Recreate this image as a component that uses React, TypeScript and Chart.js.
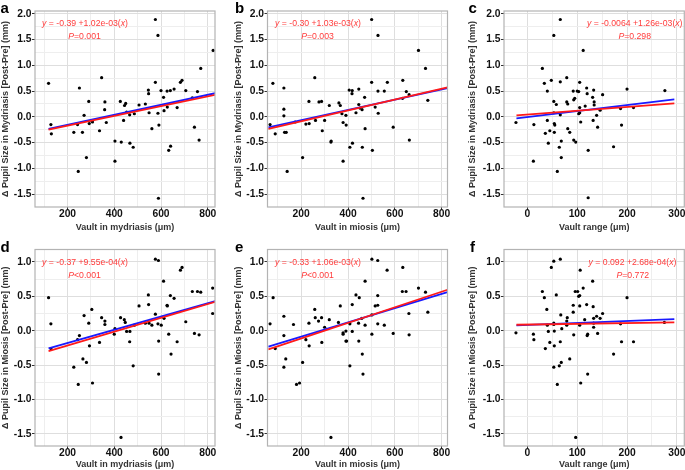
import React, { useEffect, useRef } from 'react';
import { Chart, registerables } from 'chart.js';

Chart.register(...registerables);

const FONT = "'Liberation Sans', Arial, Helvetica, sans-serif";

// ---------- data ----------
// a: vault in mydriasis vs Δ pupil (mydriasis)
const aX = [119,129,131,227,243,246,251,264,271,281,291,293,304,307,337,346,360,359,366,403,403,426,430,440,444,449,453,466,467,481,486,506,533,546,547,549,561,576,576,587,587,591,589,600,611,613,626,627,633,640,641,656,669,683,690,706,734,743,756,763,770,823];
const aY = [0.65,-0.15,-0.33,-0.30,-0.15,-1.06,0.56,-0.30,0.03,-0.79,0.30,-0.13,-0.08,-0.10,-0.27,0.76,0.29,0.14,-0.11,-0.47,-0.86,0.30,-0.49,-0.07,0.22,0.26,0.09,0.04,-0.51,-0.59,0.06,0.23,0.25,0.52,0.45,0.08,-0.23,1.89,0.67,1.58,0.07,-0.16,-1.58,0.51,0.38,0.12,0.50,0.19,-0.65,0.51,-0.57,0.54,0.18,0.67,0.71,0.51,0.37,-0.20,0.49,-0.45,0.94,1.29];
// b: vault in miosis vs Δ pupil (mydriasis)
const bX = [67,79,89,126,126,126,129,136,140,174,206,220,233,234,258,261,276,287,290,300,320,327,328,361,367,374,379,379,391,392,405,408,418,417,419,434,446,446,451,460,461,464,471,473,501,501,504,516,528,528,529,555,568,593,633,634,649,661,662,701,731,741];
const bY = [-0.15,0.65,-0.33,0.56,0.02,0.15,-0.30,-0.30,-1.06,-0.10,-0.79,-0.14,0.30,-0.13,0.76,-0.07,0.29,0.30,-0.27,-0.07,0.22,-0.49,-0.47,0.27,0.22,0.06,-0.11,-0.86,0.03,-0.16,0.52,-0.59,0.51,0.45,-0.51,0.08,0.54,0.24,0.17,0.14,-0.59,-1.58,0.38,-0.23,1.89,0.67,-0.65,0.19,1.58,0.50,0.07,0.50,0.67,-0.20,0.36,0.71,0.49,0.43,-0.45,1.29,0.94,0.32];
// c: vault range vs Δ pupil (mydriasis)
const cX = [-23,13,12,30,34,36,40,40,42,45,48,53,53,53,54,55,54,58,64,66,66,66,68,68,60,79,79,81,81,85,92,93,95,93,97,100,103,103,105,105,105,107,112,116,119,120,122,122,131,132,133,134,134,139,141,146,151,173,187,189,200,213,276];
const cY = [-0.11,-0.15,-0.86,0.94,0.65,-0.32,0.50,-0.07,-0.51,-0.27,0.71,1.58,0.30,0.08,-0.13,-0.16,-0.30,0.24,-0.59,1.89,0.68,0.04,-0.79,-0.47,-1.06,0.76,0.29,0.25,-0.23,-0.30,0.50,0.33,0.36,-0.45,-0.49,0.50,0.49,0.06,0.18,0.08,0.67,-0.10,1.29,0.21,0.56,0.45,-1.57,-0.65,0.38,-0.07,0.52,0.29,0.23,0.03,-0.20,0.13,0.43,-0.58,0.16,-0.16,0.54,0.18,0.51];
// d: vault in mydriasis vs Δ pupil (miosis)
const dX = [119,129,129,227,243,246,251,266,271,281,291,294,304,307,337,346,360,360,403,400,427,429,443,447,453,467,466,481,486,506,533,546,547,549,561,576,576,589,587,590,590,601,611,613,626,627,633,640,643,656,669,683,690,706,734,743,756,763,770,821,821];
const dY = [0.48,0.10,-0.26,-0.53,-0.13,-0.78,-0.07,-0.41,0.22,-0.46,0.11,-0.22,0.31,-0.76,-0.17,0.19,0.14,0.09,0.03,-0.05,0.19,-1.55,0.16,0.12,-0.01,-0.01,-0.16,-0.51,0.08,0.36,0.11,0.52,0.38,0.11,0.08,1.04,0.24,1.02,0.10,-0.15,-0.63,0.08,0.72,0.18,0.37,0.36,-0.05,0.51,-0.34,0.47,-0.16,0.88,0.92,0.13,0.57,-0.04,0.57,-0.06,0.56,0.62,0.25];
// e: vault in miosis vs Δ pupil (miosis)
const eX = [67,80,89,126,126,126,134,167,180,193,206,220,233,234,258,260,274,287,288,300,320,327,359,367,379,379,391,391,394,408,408,418,418,434,448,445,446,459,461,464,473,473,502,502,502,516,527,527,527,527,555,567,593,632,634,648,660,661,701,731,741];
const eY = [0.10,0.48,-0.26,0.21,-0.07,-0.53,-0.41,0.09,-0.78,-0.76,-0.46,-0.13,0.11,-0.22,0.31,0.19,0.14,0.19,-0.17,0.05,0.16,-1.55,0.12,0.36,-0.03,-0.05,-0.005,-0.15,-0.15,-0.51,0.10,0.38,-0.01,0.52,0.48,0.11,-0.15,0.18,-0.34,-0.63,0.72,0.08,1.04,0.23,-0.05,0.36,1.02,0.51,0.37,0.10,0.08,0.88,-0.04,0.57,0.92,0.57,0.25,-0.06,0.62,0.56,0.27];
// f: vault range vs Δ pupil (miosis)
const fX = [-23,12,13,30,34,36,39,40,42,45,48,53,53,53,54,54,53,58,64,66,66,67,68,69,60,79,80,79,85,92,92,93,96,97,101,103,105,105,105,106,107,112,115,119,120,121,121,131,132,133,133,133,139,141,146,151,173,187,189,200,213,275];
const fY = [-0.03,-0.05,-0.13,0.57,0.48,-0.26,0.31,0.08,-0.01,-0.17,0.92,1.01,0.11,0.09,-0.005,-0.22,-0.53,0.52,-0.51,1.04,-0.16,0.23,-0.46,0.03,-0.78,0.14,0.19,0.08,-0.41,0.37,0.27,-0.06,0.57,-1.55,0.57,0.50,0.36,0.51,0.08,0.88,-0.76,0.62,0.16,0.38,-0.07,-0.05,-0.63,0.72,0.35,0.18,0.11,0.05,0.21,-0.04,0.18,0.25,-0.34,0.10,-0.16,0.48,-0.16,0.12];

// fitted lines (end points): red and blue
const redAX = [119, 833]; const redAY = [-0.25, 0.43];
const blueAX = [119, 833]; const blueAY = [-0.235, 0.46];
const redBX = [60, 825]; const redBY = [-0.235, 0.57];
const blueBX = [60, 825]; const blueBY = [-0.205, 0.56];
const redCX = [-22, 295]; const redCY = [0.03, 0.26];
const blueCX = [-22, 295]; const blueCY = [-0.03, 0.34];
const redDX = [119, 833]; const redDY = [-0.295, 0.421];
const blueDX = [119, 833]; const blueDY = [-0.256, 0.43];
const redEX = [60, 825]; const redEY = [-0.271, 0.595];
const blueEX = [60, 825]; const blueEY = [-0.232, 0.561];
const redFX = [-22, 295]; const redFY = [0.087, 0.121];
const blueFX = [-22, 295]; const blueFY = [0.077, 0.169];

// tick values
const xTicksVault = [100, 200, 300, 400, 500, 600, 700, 800];
const xTicksRange = [0, 50, 100, 150, 200, 250, 300];
const yTicksMyd = [-1.5, -1.25, -1, -0.75, -0.5, -0.25, 0, 0.25, 0.5, 0.75, 1, 1.25, 1.5, 1.75, 2];
const yTicksMio = [-1.5, -1.25, -1, -0.75, -0.5, -0.25, 0, 0.25, 0.5, 0.75, 1];

// texts
const yTitleMyd = 'Δ Pupil Size in Mydriasis [Post-Pre] (mm)';
const yTitleMio = 'Δ Pupil Size in Miosis [Post-Pre] (mm)';
const xTitleMyd = 'Vault in mydriasis (μm)';
const xTitleMio = 'Vault in miosis (μm)';
const xTitleRange = 'Vault range (μm)';
const eqA = ['y', ' = -0.39 +1.02e-03(', 'x', ')'];
const eqB = ['y', ' = -0.30 +1.03e-03(', 'x', ')'];
const eqC = ['y', ' = -0.0064 +1.26e-03(', 'x', ')'];
const eqD = ['y', ' = -0.37 +9.55e-04(', 'x', ')'];
const eqE = ['y', ' = -0.33 +1.06e-03(', 'x', ')'];
const eqF = ['y', ' = 0.092 +2.68e-04(', 'x', ')'];
const pA = ['P', '=0.001'];
const pB = ['P', '=0.003'];
const pC = ['P', '=0.298'];
const pD = ['P', '<0.001'];
const pE = ['P', '<0.001'];
const pF = ['P', '=0.772'];

// ---------- panel definitions (layout + references to data) ----------
const TOP = { top: 0, h: 235, padTop: 11, xAxisH: 28, xTitlePad: 2.1, yMin: -1.75, yMax: 2.055, yTicks: yTicksMyd, yTitle: yTitleMyd, eqY: 24, pY: 36.7, letterY: 12.5 };
const BOT = { top: 235, h: 235, padTop: 14.5, xAxisH: 24, xTitlePad: 0.4, yMin: -1.675, yMax: 1.18, yTicks: yTicksMio, yTitle: yTitleMio, eqY: 28, pY: 40.7, letterY: 17 };
const COL1 = { left: 0, w: 232, yAxisW: 35, padRight: 17, yTitlePad: 0, xMin: 61, xMax: 831, xTicks: xTicksVault, xMajor: 200, eqX: 85, pX: 84.5, letterX: 0.5 };
const COL2 = { left: 232, w: 234, yAxisW: 35.5, padRight: 18.5, yTitlePad: 1.2, xMin: 56, xMax: 825, xTicks: xTicksVault, xMajor: 200, eqX: 86, pX: 85.5, letterX: 3 };
const COL3 = { left: 466, w: 230, yAxisW: 38, padRight: 11.7, yTitlePad: 0.7, xMin: -47, xMax: 315, xTicks: xTicksRange, xMajor: 100, eqX: 168.7, pX: 168.7, letterX: 2.5 };

const panels = [
  { ...TOP, ...COL1, letter: 'a', xs: aX, ys: aY, xTitle: xTitleMyd, redX: redAX, redY: redAY, blueX: blueAX, blueY: blueAY, eq: eqA, pt: pA },
  { ...TOP, ...COL2, letter: 'b', xs: bX, ys: bY, xTitle: xTitleMio, redX: redBX, redY: redBY, blueX: blueBX, blueY: blueBY, eq: eqB, pt: pB },
  { ...TOP, ...COL3, letter: 'c', xs: cX, ys: cY, xTitle: xTitleRange, redX: redCX, redY: redCY, blueX: blueCX, blueY: blueCY, eq: eqC, pt: pC },
  { ...BOT, ...COL1, letter: 'd', xs: dX, ys: dY, xTitle: xTitleMyd, redX: redDX, redY: redDY, blueX: blueDX, blueY: blueDY, eq: eqD, pt: pD },
  { ...BOT, ...COL2, letter: 'e', xs: eX, ys: eY, xTitle: xTitleMio, redX: redEX, redY: redEY, blueX: blueEX, blueY: blueEY, eq: eqE, pt: pE },
  { ...BOT, ...COL3, letter: 'f', xs: fX, ys: fY, xTitle: xTitleRange, redX: redFX, redY: redFY, blueX: blueFX, blueY: blueFY, eq: eqF, pt: pF, eqX: 166.5, pX: 166.8, letterX: 4 },
];

const isMajor = (v: number, step: number) => Math.abs(v / step - Math.round(v / step)) < 1e-6;

function drawSegs(ctx: CanvasRenderingContext2D, segs: string[], cx: number, cy: number, size: number, color: string) {
  const fonts = segs.map((_, i) => `${i % 2 === 0 ? 'italic ' : ''}${size}px ${FONT}`);
  const widths = segs.map((s, i) => { ctx.font = fonts[i]; return ctx.measureText(s).width; });
  const total = widths.reduce((a, b) => a + b, 0);
  let x = cx - total / 2;
  ctx.textBaseline = 'middle';
  ctx.textAlign = 'left';
  ctx.fillStyle = color;
  segs.forEach((s, i) => { ctx.font = fonts[i]; ctx.fillText(s, x, cy); x += widths[i]; });
}

function decor(p: any) {
  return {
    id: 'decor',
    afterDatasetsDraw(chart: any) {
      const { ctx, chartArea: a } = chart;
      ctx.save();
      ctx.strokeStyle = '#b3b3b3';
      ctx.lineWidth = 1.2;
      ctx.strokeRect(a.left, a.top, a.right - a.left, a.bottom - a.top);
      drawSegs(ctx, p.eq, p.eqX, p.eqY, 8.7, '#ff3b3b');
      drawSegs(ctx, p.pt, p.pX, p.pY, 8.7, '#ff3b3b');
      ctx.font = `bold 15px ${FONT}`;
      ctx.fillStyle = '#000';
      ctx.textAlign = 'left';
      ctx.textBaseline = 'alphabetic';
      ctx.fillText(p.letter, p.letterX, p.letterY);
      ctx.restore();
    },
  };
}

function makeConfig(p: any): any {
  const pts = p.xs.map((x: number, i: number) => ({ x, y: p.ys[i] }));
  const line = (xs: number[], ys: number[]) => xs.map((x, i) => ({ x, y: ys[i] }));
  const gridColor = (step: number) => (c: any) => (c.tick && isMajor(c.tick.value, step) ? '#dedede' : '#eeeeee');
  const tickColor = (step: number) => (c: any) => (c.tick && isMajor(c.tick.value, step) ? '#333' : 'rgba(0,0,0,0)');
  return {
    type: 'scatter',
    data: {
      datasets: [
        { data: line(p.redX, p.redY), showLine: true, borderColor: '#ff1a1a', borderWidth: 1.8, pointRadius: 0, pointHoverRadius: 0 },
        { data: line(p.blueX, p.blueY), showLine: true, borderColor: '#1a1aff', borderWidth: 1.8, pointRadius: 0, pointHoverRadius: 0 },
        { data: pts, pointRadius: 1.6, pointBackgroundColor: '#000', pointBorderWidth: 0, borderWidth: 0, showLine: false },
      ],
    },
    options: {
      responsive: false,
      animation: false,
      devicePixelRatio: 1,
      events: [],
      layout: { padding: { left: 0, right: p.padRight, top: p.padTop, bottom: 0 } },
      plugins: { legend: { display: false }, tooltip: { enabled: false } },
      scales: {
        x: {
          type: 'linear',
          min: p.xMin,
          max: p.xMax,
          afterBuildTicks: (s: any) => { s.ticks = p.xTicks.map((v: number) => ({ value: v })); },
          afterFit: (s: any) => { s.height = p.xAxisH; },
          ticks: {
            autoSkip: false, maxRotation: 0, padding: -1, color: '#111',
            font: { family: FONT, size: 10.3, weight: 'bold', lineHeight: 1 },
            callback: (v: number) => (isMajor(v, p.xMajor) ? String(v) : ''),
          },
          grid: { color: gridColor(p.xMajor), lineWidth: 1, tickLength: 3, tickColor: tickColor(p.xMajor), drawTicks: true },
          border: { display: false },
          title: { display: true, text: p.xTitle, color: '#333', font: { family: FONT, size: 9, weight: 'bold', lineHeight: 1.2 }, padding: { top: 0, bottom: p.xTitlePad } },
        },
        y: {
          type: 'linear',
          min: p.yMin,
          max: p.yMax,
          afterBuildTicks: (s: any) => { s.ticks = p.yTicks.map((v: number) => ({ value: v })); },
          afterFit: (s: any) => { s.width = p.yAxisW; },
          ticks: {
            autoSkip: false, padding: 0.5, color: '#111',
            font: { family: FONT, size: 10.3, weight: 'bold', lineHeight: 1 },
            callback: (v: number) => (isMajor(v, 0.5) ? v.toFixed(1) : ''),
          },
          grid: { color: gridColor(0.5), lineWidth: 1, tickLength: 3, tickColor: tickColor(0.5), drawTicks: true },
          border: { display: false },
          title: { display: true, text: p.yTitle, color: '#333', font: { family: FONT, size: 9, weight: 'bold', lineHeight: 1.2 }, padding: { top: p.yTitlePad, bottom: 0 } },
        },
      },
    },
    plugins: [decor(p)],
  };
}

function Panel({ p }: { p: any }) {
  const ref = useRef<HTMLCanvasElement | null>(null);
  useEffect(() => {
    if (!ref.current) return;
    const chart = new Chart(ref.current, makeConfig(p));
    return () => chart.destroy();
  }, [p]);
  return (
    <canvas
      ref={ref}
      width={p.w}
      height={p.h}
      style={{ position: 'absolute', left: p.left, top: p.top, width: p.w, height: p.h }}
    />
  );
}

export default function App() {
  return (
    <div style={{ position: 'absolute', left: 0, top: 0, width: 685, height: 470, overflow: 'hidden', background: '#fff' }}>
      {panels.map((p) => (
        <Panel key={p.letter} p={p} />
      ))}
    </div>
  );
}
